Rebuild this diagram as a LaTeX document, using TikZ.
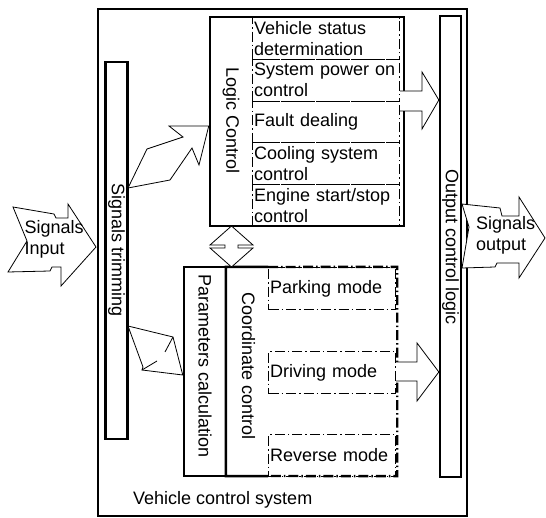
\documentclass[tikz,border=0pt]{standalone}
\usepackage{fontspec}
\setmainfont{Liberation Sans}
\begin{document}
\begin{tikzpicture}[x=1pt,y=-1pt,
  thickbox/.style={draw, line width=2.5pt, inner sep=0pt},
  ghost/.style={inner sep=0pt},
  dd/.style={dash pattern=on 10pt off 3pt on 1.5pt off 3pt},
  subbox/.style={draw, line width=1.1pt, dd, inner sep=0pt, inner xsep=1.5pt, anchor=north west, align=left, text width=144pt, font=\lbl},
  lbltxt/.style={inner sep=0pt, font=\lbl, align=left},
  vtxt/.style={inner sep=0pt, font=\lbl, rotate=-90},
  blk/.style={draw, line width=0.8pt, fill=white, line join=miter}]
\def\lbl{\fontsize{18}{21}\selectfont}
\useasboundingbox (0,0) rectangle (546,518);

% containers
\node[thickbox, minimum width=369pt, minimum height=507pt] (outer) at (282.5,262.5) {};
\node[thickbox, line width=2.3pt, minimum width=22pt, minimum height=377pt] (trim) at (116.5,250.5) {};
\node[thickbox, minimum width=194pt, minimum height=209pt] (logic) at (307,121.5) {};
\node[thickbox, line width=2.3pt, minimum width=21pt, minimum height=461pt] (outlogic) at (450.5,246.5) {};
\node[thickbox, minimum width=42pt, minimum height=209pt] (param) at (205,371.5) {};
\node[ghost, minimum width=171pt, minimum height=209pt] (coord) at (311.5,371.5) {};
\draw[line width=2.5pt] (268,267) -- (coord.north west) -- (coord.south west) -- (268,476);
\draw[line width=2.4pt, dd] (268,267) -- (coord.north east) -- (coord.south east) -- (268,476);

% logic control sub-functions
\node[subbox, minimum height=41.8pt] (s1) at (252,17) {Vehicle status\\determination};
\node[subbox, minimum height=41.8pt] (s2) at (252,58.8) {System power on\\control};
\node[subbox, minimum height=41.8pt] (s3) at (252,100.6) {Fault dealing};
\node[subbox, minimum height=41.8pt] (s4) at (252,142.4) {Cooling system\\control};
\node[subbox, minimum height=41.8pt] (s5) at (252,184.2) {Engine start/stop\\control};

% coordinate control modes
\node[subbox, text width=124pt, minimum height=42pt] (m1) at (268,267) {Parking mode};
\node[subbox, text width=124pt, minimum height=42pt] (m2) at (268,351) {Driving mode};
\node[subbox, text width=124pt, minimum height=42pt] (m3) at (268,434) {Reverse mode};

% block arrows
\draw[blk] (13,207) -- (54,214) -- (56,218) -- (68,218) -- (68,204) -- (96,247) -- (61,286)
  -- (61,267) -- (52,267) -- (50,271) -- (8,272) -- (27,241) -- cycle;
\draw[blk] (462,204) -- (500,208) -- (502,216) -- (519,216) -- (519,197) -- (545,238) -- (519,278)
  -- (519,263) -- (497,263) -- (495,267) -- (462,268) -- (469,227) -- cycle;
\draw[blk] (128,188) -- (147,149) -- (183,137) -- (169,126) -- (logic.west |- 0,126) -- (199,165)
  -- (192,148) -- (170,180) -- cycle;
\draw[blk] (128,326) -- (173,337) -- (param.west |- 0,375) -- (142,370) -- (143,367) -- cycle;
\draw[blk] (173,337) -- (165,352) (142,370) -- (157,361);
\draw[blk] (231.5,226) -- (253,245) -- (238,245) -- (238,248) -- (253,248) -- (231.5,267)
  -- (210,248) -- (225,248) -- (225,245) -- (210,245) -- cycle;
\draw[blk] (400,91) -- (422,91) -- (422,72) -- (outlogic.west |- 0,100) -- (422,129) -- (422,111) -- (400,111);
\draw[blk] (396,362) -- (417,362) -- (417,343) -- (outlogic.west |- 0,372) -- (417,401) -- (417,381) -- (396,381);

% texts
\node[vtxt] (tlogic) at (231,121) {Logic Control};
\node[vtxt] (ttrim) at (116.5,250) {Signals trimming};
\node[vtxt] (tout) at (450.5,247) {Output control logic};
\node[vtxt] (tparam) at (205,366) {Parameters calculation};
\node[vtxt] (tcoord) at (248.5,366) {Coordinate control};
\node[lbltxt, anchor=west] (tin) at (24.5,239) {Signals\\Input};
\node[lbltxt, anchor=west] (tsout) at (476,235) {Signals\\output};
\node[lbltxt, anchor=base west] (tsys) at (133,504) {Vehicle control system};
\end{tikzpicture}
\end{document}
